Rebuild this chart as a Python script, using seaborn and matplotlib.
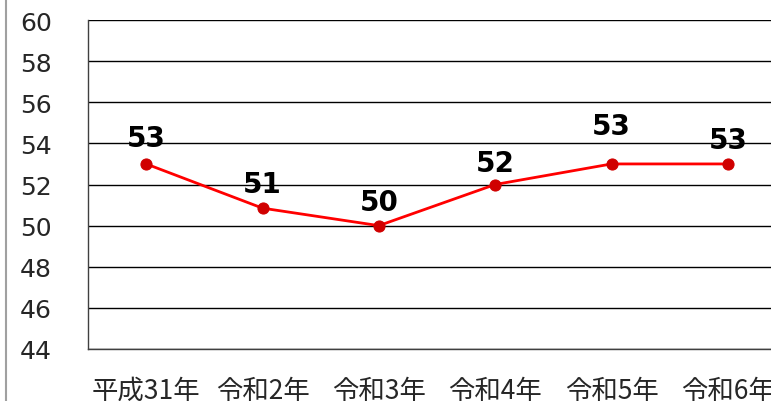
import matplotlib
matplotlib.use('Agg')
import matplotlib.pyplot as plt
import seaborn as sns
import pandas as pd
from matplotlib.lines import Line2D

# Data
years = ['平成31年', '令和2年', '令和3年', '令和4年', '令和5年', '令和6年']
values = [53.0, 50.85, 50.0, 52.0, 53.0, 53.0]
labels = ['53', '51', '50', '52', '53', '53']

sns.set_style('white')
plt.rcParams['font.family'] = ['Noto Sans CJK JP', 'DejaVu Sans']

df = pd.DataFrame({'year': years, 'value': values})

fig = plt.figure(figsize=(7.71, 4.02), dpi=100)
ax = fig.add_axes([88 / 771, 52 / 402, 698 / 771, 329 / 402])

sns.lineplot(data=df, x='year', y='value', ax=ax, color='#FF0000', linewidth=2,
             marker='o', markersize=8, markerfacecolor='#D00000', markeredgecolor='#D00000',
             sort=False)

# data labels: baseline offsets above each point, in pixels
offsets = [18, 16, 16, 14, 30, 15.5]
for i, (v, lab) in enumerate(zip(values, labels)):
    ax.annotate(lab, (i, v), xytext=(0, offsets[i] * 0.72), textcoords='offset points',
                ha='center', va='baseline', fontsize=20, fontweight='bold',
                family=['DejaVu Sans'], color='black')

ax.set_xlim(-0.5, 5.5)
ax.set_ylim(44, 60)
ax.set_yticks(range(44, 61, 2))
ax.yaxis.grid(True, color='black', linewidth=1)
ax.set_axisbelow(True)
ax.set_xlabel('')
ax.set_ylabel('')

for s in ['top', 'right']:
    ax.spines[s].set_visible(False)
for s in ['left', 'bottom']:
    ax.spines[s].set_color('#404040')
    ax.spines[s].set_linewidth(1)

# category boundary ticks on x axis
ax.set_xticks([i + 0.5 for i in range(-1, 6)], minor=True)
ax.tick_params(axis='x', which='minor', direction='in', length=5, width=1, color='#404040')
ax.tick_params(axis='x', which='major', length=0, pad=20, labelsize=19)
ax.tick_params(axis='y', length=0, pad=26, labelsize=18)
for t in ax.get_yticklabels():
    t.set_family(['DejaVu Sans'])

fig.add_artist(Line2D([5.5 / 771, 5.5 / 771], [0, 1], color='#A0A0A0', linewidth=1.5))

fig.savefig('out.png', dpi=100)
